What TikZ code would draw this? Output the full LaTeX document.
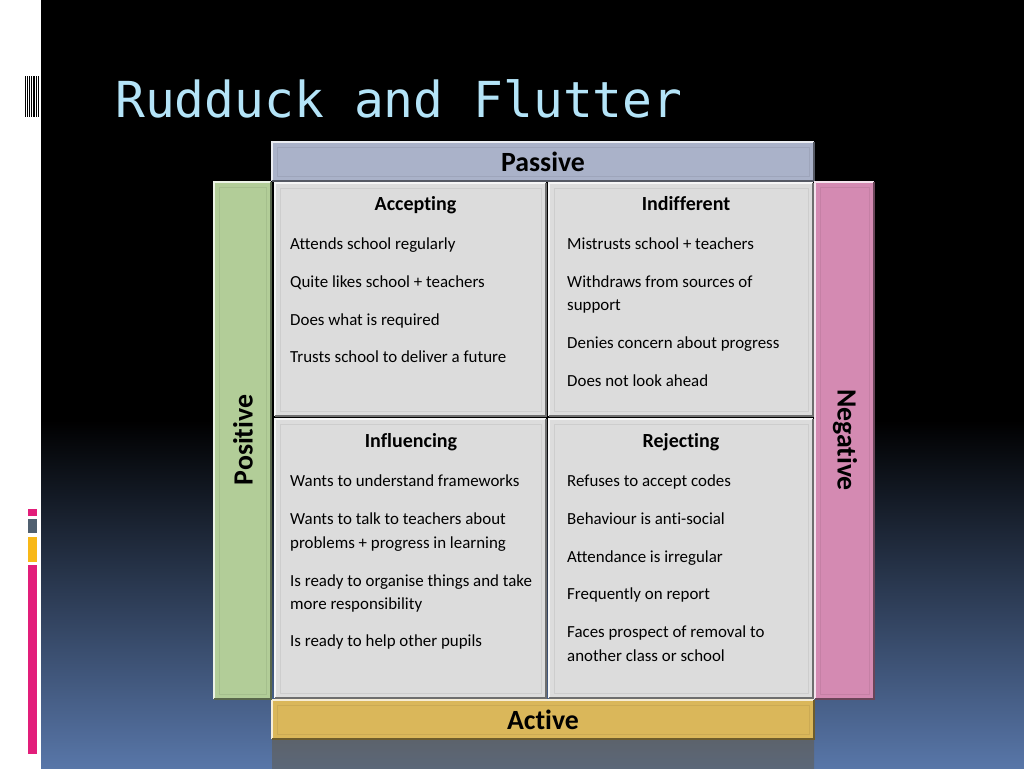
\documentclass[tikz,border=0pt]{standalone}
\usepackage{fontspec}
\setmainfont{Carlito}[Ligatures={NoCommon}]
\newfontfamily\titlefont{DejaVu Sans Mono}
\usetikzlibrary{calc}
\definecolor{cpass}{RGB}{170,178,201}
\definecolor{cact}{RGB}{218,183,90}
\definecolor{cpos}{RGB}{178,205,152}
\definecolor{cneg}{RGB}{212,138,178}
\definecolor{cquad}{RGB}{220,220,220}
\definecolor{ctitle}{RGB}{180,228,248}
\definecolor{cblue}{RGB}{88,118,168}
\definecolor{cpink}{RGB}{226,30,122}
\definecolor{cgrey}{RGB}{80,96,112}
\definecolor{cyel}{RGB}{248,184,24}
\definecolor{crefl}{RGB}{92,99,108}
\newcommand\bev[2]{%
  \draw[#2!93!black, line width=0.8pt] ($(#1.north west)+(5,5)$) rectangle ($(#1.south east)+(-5,-5)$);
  \draw[line width=2pt, #2!25!white] (#1.south west) -- (#1.north west) -- (#1.north east);
  \draw[line width=2pt, #2!50!black] (#1.north east) -- (#1.south east) -- (#1.south west);
}
\begin{document}
\begin{tikzpicture}[x=1pt,y=-1pt,
  box/.style={inner sep=0pt, outer sep=0pt, anchor=north west, draw=none},
  item/.style={font=\fontsize{16.9}{20}\selectfont, anchor=base west, inner sep=0pt},
  head/.style={font=\fontsize{20}{22}\selectfont\bfseries, anchor=base, inner sep=0pt},
  bar/.style={font=\fontsize{27.8}{30}\selectfont\bfseries, inner sep=0pt}]
\useasboundingbox (0,0) rectangle (1024,768);
% background
\fill[white] (0,0) rectangle (1024,768);
\fill[black] (41,0) rectangle (1024,768);
\shade[top color=black, bottom color=cblue] (41,420) rectangle (1024,768);
% left decorations
\foreach \xx/\ww in {25.5/1.2, 27.5/0.8, 29.5/1.6, 31.8/0.8, 33.8/1.6, 36/0.8, 38.2/1.4}
  \draw[black, line width=\ww pt] (\xx,76) -- (\xx,117);
\fill[cpink] (28,509) rectangle (37,516);
\fill[cgrey] (28,519) rectangle (37,533);
\fill[cyel] (28,537) rectangle (37,562);
\fill[cpink] (28,565) rectangle (37,754);
% title
\node[font=\titlefont\fontsize{49.6}{55}\selectfont, text=ctitle, anchor=base west, inner sep=0pt] (title) at (115,117) {Rudduck and Flutter};
% reflection
\shade[top color=crefl, bottom color=crefl!80!cblue] (272,740) rectangle (814,768);
% bars
\node[box, fill=cpass, minimum width=542pt, minimum height=39pt] (passive) at (272,142) {};
\node[box, fill=cact, minimum width=542pt, minimum height=39pt] (active) at (272,700) {};
\node[box, fill=cpos, minimum width=57pt, minimum height=517pt] (positive) at (214,182) {};
\node[box, fill=cneg, minimum width=59pt, minimum height=517pt] (negative) at (815,182) {};
% quadrants
\node[box, fill=cquad, minimum width=271pt, minimum height=233pt] (acc) at (275,183) {};
\node[box, fill=cquad, minimum width=264pt, minimum height=233pt] (ind) at (549,183) {};
\node[box, fill=cquad, minimum width=271pt, minimum height=279pt] (inf) at (275,419) {};
\node[box, fill=cquad, minimum width=264pt, minimum height=279pt] (rej) at (549,419) {};
\bev{passive}{cpass}
\bev{active}{cact}
\bev{positive}{cpos}
\bev{negative}{cneg}
\bev{acc}{cquad}
\bev{ind}{cquad}
\bev{inf}{cquad}
\bev{rej}{cquad}
% bar labels
\node[bar, anchor=center] (passiveT) at (543,162) {Passive};
\node[bar, anchor=center] (activeT) at (543,720) {Active};
\node[bar, anchor=center, rotate=90] (positiveT) at (243,440) {Positive};
\node[bar, anchor=center, rotate=-90] (negativeT) at (845,440) {Negative};
% Accepting
\node[head] (accH) at (415.5,210) {Accepting};
\node[item] (acc1) at (290,249.5) {Attends school regularly};
\node[item] (acc2) at (290,287.5) {Quite likes school + teachers};
\node[item] (acc3) at (290,325.5) {Does what is required};
\node[item] (acc4) at (290,362.5) {Trusts school to deliver a future};
% Indifferent
\node[head] (indH) at (686,210) {Indifferent};
\node[item] (ind1) at (567,249.5) {Mistrusts school + teachers};
\node[item] (ind2) at (567,287.5) {Withdraws from sources of};
\node[item] (ind3) at (567,310.5) {support};
\node[item] (ind4) at (567,348.5) {Denies concern about progress};
\node[item] (ind5) at (567,386.5) {Does not look ahead};
% Influencing
\node[head] (infH) at (411,447) {Influencing};
\node[item] (inf1) at (290,486.5) {Wants to understand frameworks};
\node[item] (inf2) at (290,524.5) {Wants to talk to teachers about};
\node[item] (inf3) at (290,548.5) {problems + progress in learning};
\node[item] (inf4) at (290,586.5) {Is ready to organise things and take};
\node[item] (inf5) at (290,609.5) {more responsibility};
\node[item] (inf6) at (290,646.5) {Is ready to help other pupils};
% Rejecting
\node[head] (rejH) at (681,447) {Rejecting};
\node[item] (rej1) at (567,486.5) {Refuses to accept codes};
\node[item] (rej2) at (567,524.5) {Behaviour is anti-social};
\node[item] (rej3) at (567,562.5) {Attendance is irregular};
\node[item] (rej4) at (567,599.5) {Frequently on report};
\node[item] (rej5) at (567,637.5) {Faces prospect of removal to};
\node[item] (rej6) at (567,661.5) {another class or school};
\end{tikzpicture}
\end{document}
